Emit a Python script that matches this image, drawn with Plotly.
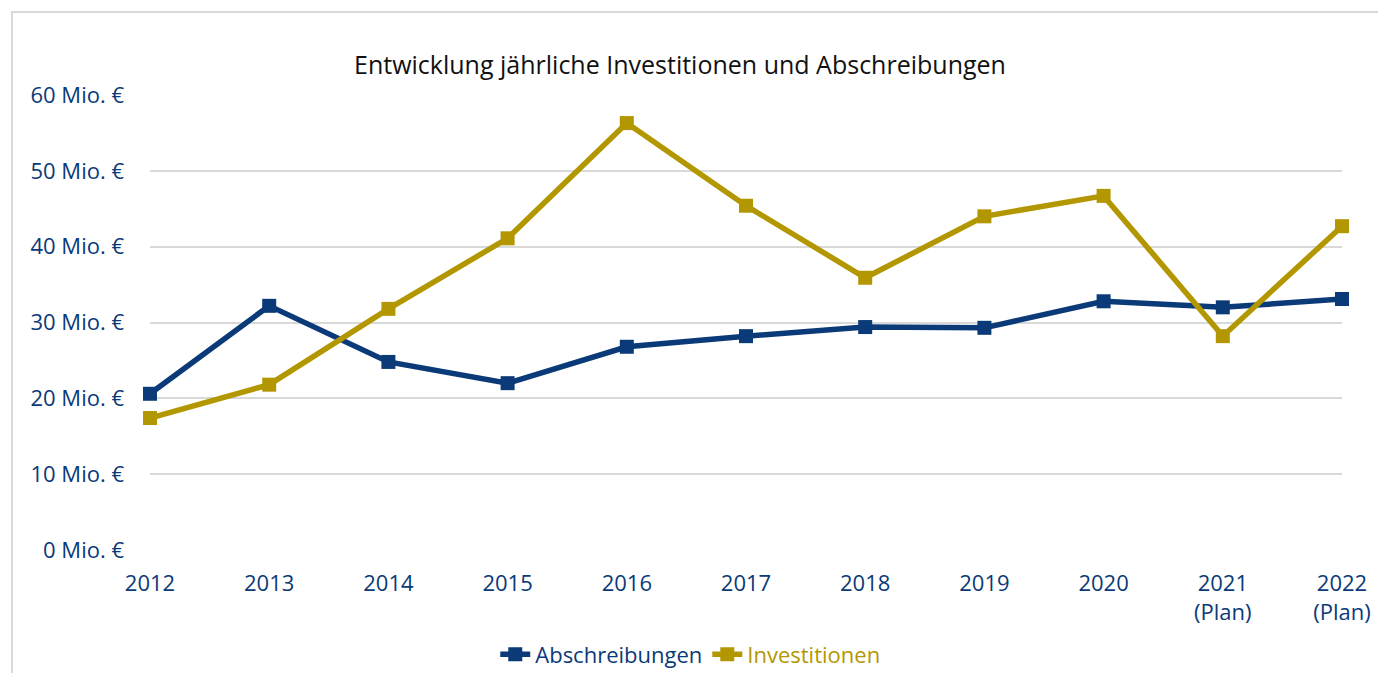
import plotly.graph_objects as go

years = ["2012", "2013", "2014", "2015", "2016", "2017", "2018", "2019", "2020", "2021<br>(Plan)", "2022<br>(Plan)"]
abschreibungen = [20.6, 32.2, 24.8, 22.0, 26.8, 28.2, 29.4, 29.3, 32.8, 32.0, 33.1]
investitionen = [17.4, 21.8, 31.8, 41.1, 56.3, 45.4, 35.9, 44.0, 46.7, 28.2, 42.7]
y_ticks = [0, 10, 20, 30, 40, 50, 60]
y_labels = [f"{v} Mio. €" for v in y_ticks]

navy = "#0b3a78"
gold = "#b39700"
font_family = "Open Sans, Noto Sans, sans-serif"

xpos = list(range(len(years)))

fig = go.Figure()
fig.add_trace(go.Scatter(
    x=xpos, y=abschreibungen, mode="lines+markers",
    name=f"<span style='color:{navy}'>Abschreibungen</span>",
    line=dict(color=navy, width=5.5), marker=dict(symbol="square", size=14, color=navy),
    cliponaxis=False))
fig.add_trace(go.Scatter(
    x=xpos, y=investitionen, mode="lines+markers",
    name=f"<span style='color:{gold}'>Investitionen</span>",
    line=dict(color=gold, width=5.5), marker=dict(symbol="square", size=14, color=gold),
    cliponaxis=False))

fig.update_layout(
    width=1370, height=665,
    margin=dict(l=142, r=36, t=87, b=123, autoexpand=False),
    paper_bgcolor="white", plot_bgcolor="white",
    font=dict(family=font_family, size=22, color=navy),
    title=dict(text="Entwicklung jährliche Investitionen und Abschreibungen",
               x=0.4905, xref="container", xanchor="center",
               y=0.914, yref="container", yanchor="middle",
               font=dict(size=25, color="#111111", family=font_family)),
    xaxis=dict(tickmode="array", tickvals=xpos, ticktext=years, range=[0, 10],
               showgrid=False, zeroline=False, showline=False, ticks="",
               ticklabelstandoff=18, tickfont=dict(size=22, color=navy), automargin=False),
    yaxis=dict(tickmode="array", tickvals=y_ticks, ticktext=y_labels, range=[0, 60],
               showgrid=True, gridcolor="#d9d9d9", gridwidth=2, zeroline=False,
               showline=False, ticks="", ticklabelstandoff=25,
               tickfont=dict(size=22, color=navy), automargin=False),
    legend=dict(orientation="h", x=0.498, xanchor="center", xref="container",
                y=0.028, yanchor="middle", yref="container",
                font=dict(size=22), tracegroupgap=0),
    showlegend=True,
    shapes=[dict(type="rect", xref="paper", yref="paper", x0=-0.1158, x1=1.2, y0=-0.5, y1=1.1824,
                 line=dict(color="#d9d9d9", width=2), fillcolor="rgba(0,0,0,0)", layer="below")],
)

fig.write_html("out.html")
